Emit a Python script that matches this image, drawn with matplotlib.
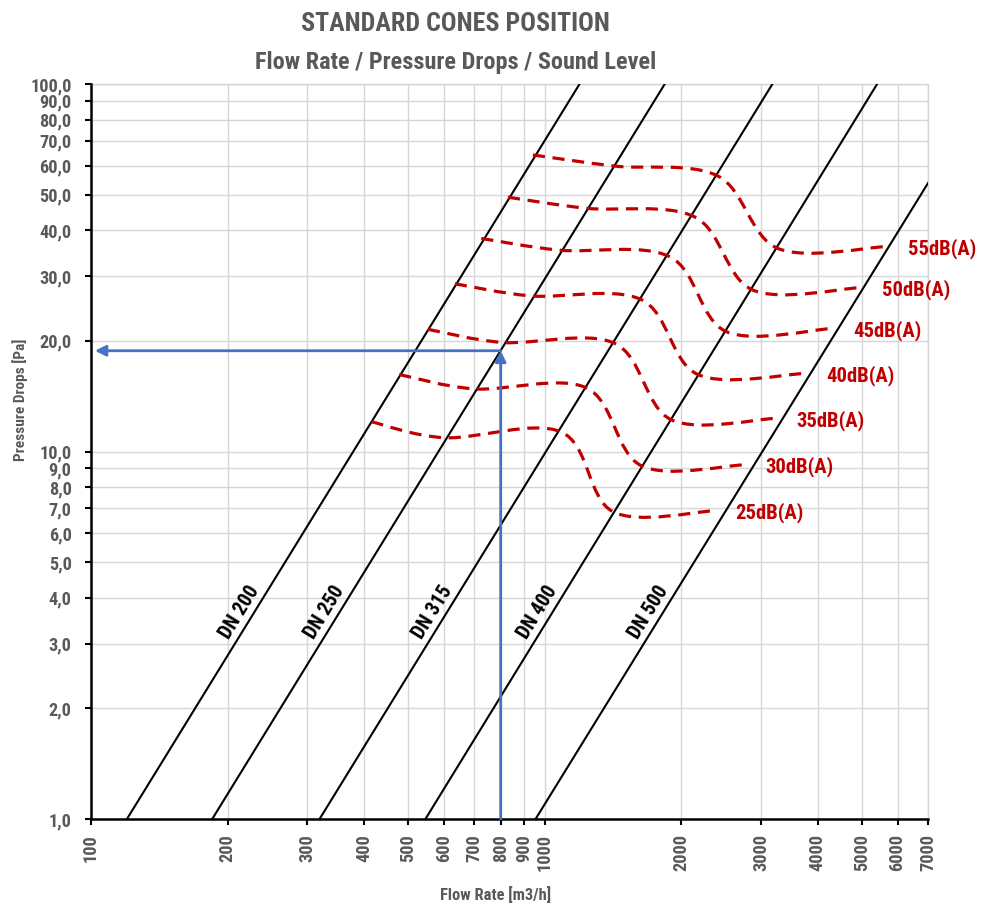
import os
import numpy as np
import matplotlib
matplotlib.use("Agg")
import matplotlib.pyplot as plt
from matplotlib import font_manager as fm
from matplotlib.font_manager import FontProperties
from matplotlib.path import Path
from matplotlib.patches import PathPatch
from matplotlib import transforms

# ---- data ----
flow_ticks = [100, 200, 300, 400, 500, 600, 700, 800, 900, 1000,
              2000, 3000, 4000, 5000, 6000, 7000]
pressure_ticks = [1, 2, 3, 4, 5, 6, 7, 8, 9, 10, 20, 30, 40, 50, 60, 70, 80, 90, 100]
pressure_labels = [f"{v},0" for v in pressure_ticks]

dn_names = ["DN 200", "DN 250", "DN 315", "DN 400", "DN 500"]
dn_flow_1pa = [120, 185, 319, 546, 955]        # flow where each line meets 1 Pa
dn_flow_100pa = [1194, 1840, 3178, 5408, 9550]  # flow where each line meets 100 Pa

sound_labels = ["55dB(A)", "50dB(A)", "45dB(A)", "40dB(A)", "35dB(A)", "30dB(A)", "25dB(A)"]
sound_flow = [
    [942, 1426, 2408, 3265, 5655],
    [830, 1236, 2140, 2876, 4940],
    [725, 1079, 1885, 2513, 4280],
    [634, 935, 1633, 2176, 3738],
    [553, 809, 1426, 1902, 3211],
    [478, 701, 1236, 1633, 2734],
    [415, 602, 1088, 1414, 2348],
]
sound_pressure = [
    [64.1, 59.8, 56.2, 35.7, 36.1],
    [49.2, 45.9, 43.5, 27.5, 27.9],
    [38.0, 35.3, 33.9, 21.2, 21.6],
    [28.6, 26.5, 25.9, 16.2, 16.3],
    [21.5, 19.8, 19.7, 12.2, 12.3],
    [16.2, 14.8, 14.9, 9.15, 9.19],
    [12.05, 10.9, 11.3, 6.86, 6.89],
]

arrow_flow = 800
arrow_pressure = 18.8

GREY = "#595959"
RED = "#C00000"
BLUE = "#4472C4"


def pick_font():
    # prefer a narrow bold face, the original uses a condensed font
    preferred = ["notosans-extracondensedbold", "robotocondensed-bold",
                 "opensans-condensedbold", "notosans-condensedbold",
                 "liberationsansnarrow-bold", "dejavusanscondensed-bold"]
    scale = [1.0, 0.85, 0.85, 0.85, 0.8, 0.8]
    found = {}
    for f in fm.fontManager.ttflist:
        stem = os.path.splitext(os.path.basename(f.fname))[0].lower()
        if stem in preferred:
            found[stem] = f.fname
    for name, s in zip(preferred, scale):
        if name in found:
            return FontProperties(fname=found[name]), s
    return FontProperties(family="DejaVu Sans", weight="bold"), 0.7


BASE, SCALE = pick_font()


def font(size):
    p = BASE.copy()
    p.set_size(size * SCALE)
    return p


def smooth_path(xs, ys):
    # excel-like smoothed line, built as bezier segments in log space
    pts = np.column_stack([np.log10(xs), np.log10(ys)])
    n = len(pts)
    verts = [pts[0]]
    codes = [Path.MOVETO]
    for i in range(n - 1):
        p0 = pts[max(i - 1, 0)]
        p1 = pts[i]
        p2 = pts[i + 1]
        p3 = pts[min(i + 2, n - 1)]
        verts += [p1 + (p2 - p0) / 6, p2 - (p3 - p1) / 6, p2]
        codes += [Path.CURVE4] * 3
    return Path(10 ** np.array(verts), codes)


fig = plt.figure(figsize=(9.82, 9.08), dpi=100)
ax = fig.add_axes([0.0927, 0.098, 0.8523, 0.8095])
ax.set_xscale("log")
ax.set_yscale("log")
ax.set_xlim(flow_ticks[0], flow_ticks[-1])
ax.set_ylim(pressure_ticks[0], pressure_ticks[-1])
ax.minorticks_off()

ax.set_xticks(flow_ticks, [str(v) for v in flow_ticks])
ax.set_yticks(pressure_ticks, pressure_labels)
ax.tick_params(axis="both", direction="out", length=4, width=1.5, color="black")
ax.tick_params(axis="y", pad=10)
ax.tick_params(axis="x", pad=7)
for lab in ax.get_xticklabels():
    lab.set_fontproperties(font(15.5))
    lab.set_color(GREY)
    lab.set_rotation(90)
for lab in ax.get_yticklabels():
    lab.set_fontproperties(font(15.5))
    lab.set_color(GREY)

ax.grid(True, color="#D6D6D6", lw=1.0)
ax.set_axisbelow(True)
for side in ["left", "bottom"]:
    ax.spines[side].set_linewidth(1.8)
    ax.spines[side].set_color("black")
    ax.spines[side].set_zorder(5)
for side in ["top", "right"]:
    ax.spines[side].set_color("#D6D6D6")
    ax.spines[side].set_linewidth(1.0)

# duct lines
label_p = 3.5
for name, q1, q100 in zip(dn_names, dn_flow_1pa, dn_flow_100pa):
    ax.plot([q1, q100], [1, 100], color="black", lw=1.5, zorder=3)
    a = ax.transData.transform((q1, 1))
    b = ax.transData.transform((q100, 100))
    ang = np.degrees(np.arctan2(b[1] - a[1], b[0] - a[0]))
    t = np.log10(label_p) / 2
    ql = 10 ** (np.log10(q1) + t * (np.log10(q100) - np.log10(q1)))
    off = transforms.offset_copy(ax.transData, fig=fig, x=-1.8, y=1.1, units="points")
    ax.text(ql, label_p, name, transform=off, rotation=ang, rotation_mode="anchor",
            ha="center", va="bottom", fontproperties=font(17), color="black", zorder=4)

# sound level curves
for lab, qs, ps in zip(sound_labels, sound_flow, sound_pressure):
    patch = PathPatch(smooth_path(qs, ps), fill=False, edgecolor=RED, lw=2.3,
                      linestyle=(0, (3.8, 2.4)), zorder=4)
    ax.add_patch(patch)
    ax.annotate(lab, xy=(qs[-1], ps[-1]), xytext=(16, -1.5), textcoords="offset points",
                ha="left", va="center", color=RED, fontproperties=font(17.5),
                annotation_clip=False)

# reading example arrows
arrow_kw = dict(arrowstyle="-|>", color=BLUE, lw=2, mutation_scale=16, shrinkA=0, shrinkB=0)
ax.annotate("", xy=(arrow_flow, arrow_pressure), xytext=(arrow_flow, pressure_ticks[0]),
            arrowprops=arrow_kw, zorder=6)
ax.annotate("", xy=(flow_ticks[0] * 1.02, arrow_pressure), xytext=(arrow_flow, arrow_pressure),
            arrowprops=arrow_kw, zorder=6)

ax.set_xlabel("Flow Rate [m3/h]", fontproperties=font(14), color=GREY)
ax.xaxis.set_label_coords(0.483, -0.103)
ax.xaxis.label.set_va("center")
ax.set_ylabel("Pressure Drops [Pa]", fontproperties=font(13), color=GREY)
ax.yaxis.set_label_coords(-0.085, 0.57)
ax.yaxis.label.set_va("center")

fig.text(0.464, 0.974, "STANDARD CONES POSITION", ha="center", va="center",
         fontproperties=font(22), color=GREY)
fig.text(0.464, 0.931, "Flow Rate / Pressure Drops / Sound Level", ha="center", va="center",
         fontproperties=font(20.5), color=GREY)

fig.savefig("out.png", dpi=100)
